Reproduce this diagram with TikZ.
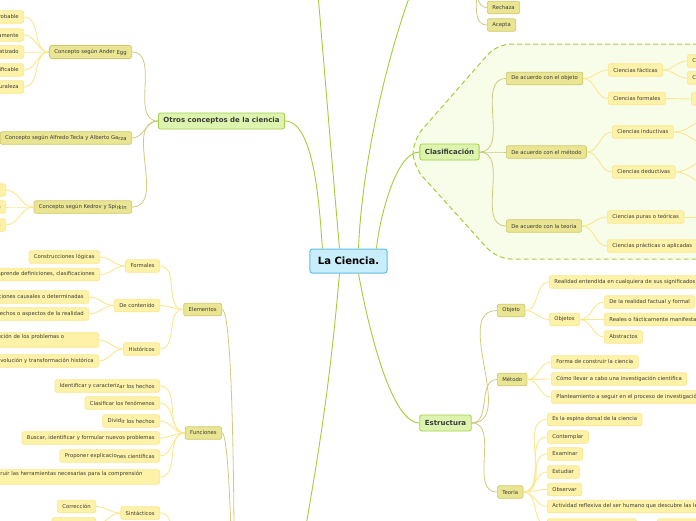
\documentclass[tikz,border=0pt]{standalone}
\usepackage{fontspec}
\setmainfont{DejaVu Sans}
\usetikzlibrary{positioning}

\definecolor{rootfill}{HTML}{C8EDFB}
\definecolor{rootline}{HTML}{5EBEE8}
\definecolor{topfill}{HTML}{DDF4AE}
\definecolor{topline}{HTML}{A5CE4C}
\definecolor{midfill}{HTML}{EAE592}
\definecolor{midline}{HTML}{D0C96C}
\definecolor{leaffill}{HTML}{FDF2A8}
\definecolor{leafline}{HTML}{FBE78E}
\definecolor{zonefill}{HTML}{F8FDEA}
\definecolor{zoneline}{HTML}{A3CD39}
\definecolor{branchline}{HTML}{CFCA7E}
\definecolor{ink}{HTML}{3A3A3A}

\newcommand{\lowr}[1]{\raisebox{-0.9pt}{#1}}

\begin{document}
\begin{tikzpicture}[x=1pt, y=1pt,
 main/.style={draw=rootline, fill=rootfill, line width=1pt, rounded corners=2.5pt, font=\fontsize{10}{11}\selectfont\bfseries, text=black, minimum height=24pt, inner xsep=8pt},
 topic/.style={draw=topline, fill=topfill, line width=0.8pt, rounded corners=2pt, font=\fontsize{7}{8}\selectfont\bfseries, text=ink, minimum height=16pt, inner xsep=5pt},
 sub/.style={draw=midline, fill=midfill, line width=0.7pt, rounded corners=2pt, font=\fontsize{5.3}{6.3}\selectfont, text=ink, minimum height=12.5pt, inner xsep=5pt},
 leaf/.style={draw=leafline, fill=leaffill, line width=0.7pt, rounded corners=2pt, font=\fontsize{5.3}{6.3}\selectfont, text=ink, minimum height=12.5pt, inner xsep=5pt},
 zone/.style={draw=zoneline, fill=zonefill, line width=1pt, dash pattern=on 5pt off 3pt, rounded corners=14pt},
 trunk/.style={draw=zoneline, line width=0.9pt},
 branch/.style={draw=branchline, line width=0.8pt},
 twig/.style={draw=leafline, line width=0.9pt}]
\useasboundingbox (0,0) rectangle (696,-520);
\clip (0,0) rectangle (696,-520);

% zona de la clasificacion
\filldraw[zone] (720,-44) -- (497,-44) -- (413,-140) -- (413,-166) -- (497,-259) -- (720,-259) -- cycle;

% centro y temas
\node[main] (ciencia) at (348.5,-261) {La Ciencia.};
\node[topic] (otros) at (221.5,-121) {Otros conceptos de la ciencia};
\node[topic] (clasif) at (449.5,-152) {Clasificación};
\node[topic] (estruc) at (445.5,-423) {Estructura};
\coordinate (arriba) at (315,40);
\coordinate (arribader) at (420,30);
\coordinate (abajo) at (300,-560);
\coordinate (decision) at (466,30);
\coordinate (caract) at (234,-700);
\coordinate (reqs) at (185,-560);

% otros conceptos
\node[sub, anchor=east] (anderegg) at (132,-52) {Concepto según Ander \lowr{Egg}};
\node[sub, anchor=east] (tecla) at (132,-138) {Concepto según Alfredo Tecla y Alberto Ga\lowr{rza}};
\node[sub, anchor=east] (kedrov) at (132,-207) {Concepto según Kedrov y Spi\lowr{rkin}};
\node[leaf, anchor=east] (ae1) at (24,-17) {Es comprobable};
\node[leaf, anchor=east] (ae2) at (24,-35) {Se obtiene metódicamente};
\node[leaf, anchor=east] (ae3) at (24,-52) {Sistematizado};
\node[leaf, anchor=east] (ae4) at (24,-70) {Verificable};
\node[leaf, anchor=east] (ae5) at (24,-87) {Estudia la naturaleza};
\node[leaf, anchor=east] (ks1) at (6,-190) {Actividad humana};
\node[leaf, anchor=east] (ks2) at (6,-207) {Proceso de investigación};
\node[leaf, anchor=east] (ks3) at (6,-225) {Sistema de conocimientos};

% elementos
\node[sub, anchor=east] (elementos) at (222,-309.5) {Elementos};
\node[leaf, anchor=east] (formales) at (160,-266) {Formales};
\node[leaf, anchor=east] (contenido) at (160,-305.5) {De contenido};
\node[leaf, anchor=east] (historicos) at (160,-349) {Históricos};
\node[leaf, anchor=east] (fo1) at (100,-257) {Construcciones lógicas};
\node[leaf, anchor=east] (fo2) at (100,-274.5) {Comprende definiciones, clasificaciones};
\node[leaf, anchor=east] (co1) at (89,-297) {Relaciones causales o determinadas};
\node[leaf, anchor=east] (co2) at (89,-314) {Estudia hechos o aspectos de la realidad};
\node[leaf, anchor=east, text width=178pt, align=left, inner ysep=2pt] (hi1) at (99,-340) {Estudio de la formulación y solución de los problemas o\\ teorías};
\node[leaf, anchor=east] (hi2) at (99,-361) {Evolución y transformación histórica};

% funciones
\node[sub, anchor=east] (funciones) at (222,-433) {Funciones};
\node[leaf, anchor=east] (fu1) at (160,-386) {Identificar y caracteriz\lowr{ar los hechos}};
\node[leaf, anchor=east] (fu2) at (160,-403) {Clasificar los fenómenos};
\node[leaf, anchor=east] (fu3) at (160,-421) {Divid\lowr{ir los hechos}};
\node[leaf, anchor=east] (fu4) at (160,-438) {Buscar, identificar y formular nuevos problemas};
\node[leaf, anchor=east] (fu5) at (160,-456) {Proponer explicacio\lowr{nes científicas}};
\node[leaf, anchor=east, text width=194pt, align=left, inner ysep=2pt] (fu6) at (160,-477) {Ayudar a construir las herramientas necesarias para la comprensión\\ del mundo};

% sintacticos
\node[leaf, anchor=east] (sintacticos) at (160,-513) {Sintácticos};
\node[leaf, anchor=east] (si1) at (96,-506.5) {Corrección};
\node[leaf, anchor=east] (si2) at (96,-524) {Consistencia};

% rechaza / acepta
\node[sub, anchor=west] (rechaza) at (487,-7.5) {Rechaza};
\node[sub, anchor=west] (acepta) at (487,-25) {Acepta};

% clasificacion
\node[sub, anchor=west] (porobjeto) at (506,-78.5) {De acuerdo con el objeto};
\node[sub, anchor=west] (pormetodo) at (506,-152) {De acuerdo con el método};
\node[sub, anchor=west] (porteoria) at (506,-226) {De acuerdo con la teoría};
\node[leaf, anchor=west] (facticas) at (608,-70) {Ciencias fácticas};
\node[leaf, anchor=west] (cformales) at (608,-98.5) {Ciencias formales};
\node[leaf, anchor=west] (inductivas) at (612,-132) {Ciencias inductivas};
\node[leaf, anchor=west] (deductivas) at (612,-172) {Ciencias deductivas};
\node[leaf, anchor=west] (puras) at (607,-217) {Ciencias puras o teóricas};
\node[leaf, anchor=west] (practicas) at (607,-246) {Ciencias prácticas o aplicadas};
\node[leaf, anchor=west] (naturales) at (687,-61) {Ciencias naturales};
\node[leaf, anchor=west] (sociales) at (687,-78) {Ciencias sociales};
\node[leaf, anchor=west] (logica) at (691,-99) {Lógica y matemáticas};
\coordinate (ind1) at (712,-118);
\coordinate (ind2) at (712,-146);
\coordinate (ded1) at (712,-158);
\coordinate (ded2) at (712,-186);
\coordinate (pur1) at (715,-217);

% estructura
\node[sub, anchor=west] (objeto) at (497,-310.5) {Objeto};
\node[sub, anchor=west] (metodo) at (497,-379.5) {Método};
\node[sub, anchor=west] (teoria) at (497,-492) {Teoría};
\node[leaf, anchor=west] (ob1) at (549,-282) {Realidad entendida en cualquiera de sus significados};
\node[leaf, anchor=west] (objetos) at (549,-319.5) {Objetos};
\node[leaf, anchor=west] (os1) at (604,-302) {De la realidad factual y formal};
\node[leaf, anchor=west] (os2) at (604,-319.5) {Reales o fácticamente manifestados};
\node[leaf, anchor=west] (os3) at (604,-337) {Abstractos};
\node[leaf, anchor=west] (me1) at (551,-362) {Forma de construir la ciencia};
\node[leaf, anchor=west] (me2) at (551,-379) {Cómo llevar a cabo una investigación científica};
\node[leaf, anchor=west] (me3) at (551,-397) {Planteamiento a seguir en el proceso de investigación};
\node[leaf, anchor=west] (te1) at (547,-419.5) {Es la espina dorsal de la ciencia};
\node[leaf, anchor=west] (te2) at (547,-437) {Contemplar};
\node[leaf, anchor=west] (te3) at (547,-454) {Examinar};
\node[leaf, anchor=west] (te4) at (547,-472) {Estudiar};
\node[leaf, anchor=west] (te5) at (547,-489.5) {Observar};
\node[leaf, anchor=west] (te6) at (547,-506.5) {Actividad reflexiva del ser humano que descubre las leyes de la naturaleza};
\node[leaf, anchor=west] (te7) at (547,-525) {Sistema de conceptos y leyes};
\node[leaf, anchor=west] (te8) at (657,-525) {Hipótesis comprobadas};

% ramas del centro
\draw[trunk] ([xshift=-26pt]ciencia.north) to[out=95,in=0,looseness=0.6] (otros.east);
\draw[trunk] ([xshift=-9pt]ciencia.north) to[out=95,in=-85] (arriba);
\draw[trunk] ([xshift=10pt]ciencia.north) .. controls (362,-160) and (390,-40) .. (arribader);
\draw[trunk] ([xshift=28pt]ciencia.north) to[out=85,in=180,looseness=0.6] (clasif.west);
\draw[trunk] ([xshift=-9pt]ciencia.south) to[out=-95,in=80] (abajo);
\draw[trunk] ([xshift=10pt]ciencia.south) to[out=-80,in=180,looseness=0.5] (estruc.west);

% otros conceptos
\draw[branch] (otros.west) to[out=180,in=0] (anderegg.east);
\draw[branch] (otros.west) to[out=180,in=0] (tecla.east);
\draw[branch] (otros.west) to[out=180,in=0] (kedrov.east);
\foreach \n in {ae1,ae2,ae3,ae4,ae5}
  \draw[twig] (anderegg.west) to[out=180,in=0] (\n.east);
\foreach \n in {ks1,ks2,ks3}
  \draw[twig] (kedrov.west) to[out=180,in=0] (\n.east);

% elementos, funciones, sintacticos
\draw[branch] (elementos.east) to[out=0,in=90,looseness=0.1] (caract);
\draw[branch] (funciones.east) to[out=0,in=90,looseness=0.1] (caract);
\draw[twig] (sintacticos.east) to[out=0,in=180] (reqs);
\foreach \n in {formales,contenido,historicos}
  \draw[twig] (elementos.west) to[out=180,in=0] (\n.east);
\foreach \n in {fo1,fo2}
  \draw[twig] (formales.west) to[out=180,in=0] (\n.east);
\foreach \n in {co1,co2}
  \draw[twig] (contenido.west) to[out=180,in=0] (\n.east);
\foreach \n in {hi1,hi2}
  \draw[twig] (historicos.west) to[out=180,in=0] (\n.east);
\foreach \n in {fu1,fu2,fu3,fu4,fu5,fu6}
  \draw[twig] (funciones.west) to[out=180,in=0] (\n.east);
\foreach \n in {si1,si2}
  \draw[twig] (sintacticos.west) to[out=180,in=0] (\n.east);

% rechaza / acepta
\draw[branch] (decision) to[out=0,in=180] (rechaza.west);
\draw[branch] (decision) to[out=0,in=180] (acepta.west);

% clasificacion
\foreach \n in {porobjeto,pormetodo,porteoria}
  \draw[branch] (clasif.east) to[out=0,in=180] (\n.west);
\foreach \n in {facticas,cformales}
  \draw[twig] (porobjeto.east) to[out=0,in=180] (\n.west);
\foreach \n in {inductivas,deductivas}
  \draw[twig] (pormetodo.east) to[out=0,in=180] (\n.west);
\foreach \n in {puras,practicas}
  \draw[twig] (porteoria.east) to[out=0,in=180] (\n.west);
\foreach \n in {naturales,sociales}
  \draw[twig] (facticas.east) to[out=0,in=180] (\n.west);
\draw[twig] (cformales.east) -- (logica.west);
\draw[twig] (inductivas.east) to[out=0,in=180] (ind1);
\draw[twig] (inductivas.east) to[out=0,in=180] (ind2);
\draw[twig] (deductivas.east) to[out=0,in=180] (ded1);
\draw[twig] (deductivas.east) to[out=0,in=180] (ded2);
\draw[twig] (puras.east) -- (pur1);

% estructura
\foreach \n in {objeto,metodo,teoria}
  \draw[branch] (estruc.east) to[out=0,in=180] (\n.west);
\foreach \n in {ob1,objetos}
  \draw[twig] (objeto.east) to[out=0,in=180] (\n.west);
\foreach \n in {os1,os2,os3}
  \draw[twig] (objetos.east) to[out=0,in=180] (\n.west);
\foreach \n in {me1,me2,me3}
  \draw[twig] (metodo.east) to[out=0,in=180] (\n.west);
\foreach \n in {te1,te2,te3,te4,te5,te6,te7}
  \draw[twig] (teoria.east) to[out=0,in=180] (\n.west);
\draw[twig] (te7.east) -- (te8.west);
\end{tikzpicture}
\end{document}
